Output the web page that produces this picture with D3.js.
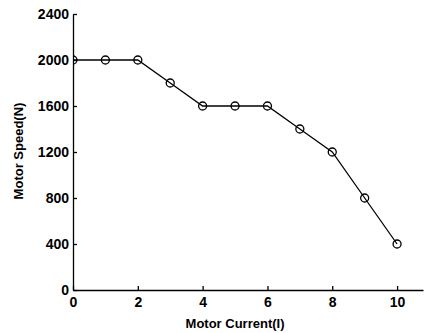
<!DOCTYPE html>
<html>
<head>
<meta charset="utf-8">
<script src="https://cdn.jsdelivr.net/npm/d3@7"></script>
<style>
  body { margin: 0; background: #fff; }
  svg { display: block; }
  .axis text { font-family: "Liberation Sans", Arial, sans-serif; font-weight: bold; font-size: 14px; fill: #000; }
  .axis path, .axis line { stroke: #000; stroke-width: 1.3; }
  .label { font-family: "Liberation Sans", Arial, sans-serif; font-weight: bold; font-size: 13px; fill: #000; }
</style>
</head>
<body>
<div id="chart"></div>
<script>
// dados
const current = [0, 1, 2, 3, 4, 5, 6, 7, 8, 9, 10];
const speed = [2000, 2000, 2000, 1800, 1600, 1600, 1600, 1400, 1200, 800, 400];
const xTicks = [0, 2, 4, 6, 8, 10];
const yTicks = [0, 400, 800, 1200, 1600, 2000, 2400];

const width = 426, height = 333;
const margin = { top: 14, right: 3, bottom: 43, left: 73 };

const svg = d3.select('#chart').append('svg')
  .attr('width', width)
  .attr('height', height);

const x = d3.scaleLinear().domain([0, 10.8]).range([margin.left, width - margin.right]);
const y = d3.scaleLinear().domain([0, 2400]).range([height - margin.bottom, margin.top]);

// recorte para a área do gráfico (o marcador em x=0 fica cortado)
svg.append('clipPath').attr('id', 'plot')
  .append('rect')
  .attr('x', margin.left)
  .attr('y', 0)
  .attr('width', width - margin.left)
  .attr('height', height);

// eixos com ticks para dentro (estilo MATLAB)
svg.append('g')
  .attr('class', 'axis')
  .attr('transform', `translate(0,${height - margin.bottom})`)
  .call(d3.axisBottom(x).tickValues(xTicks).tickFormat(d3.format('d')).tickSizeInner(-4).tickSizeOuter(0).tickPadding(4))
  .call(g => g.selectAll('text').attr('dy', '0.95em'));

svg.append('g')
  .attr('class', 'axis')
  .attr('transform', `translate(${margin.left},0)`)
  .call(d3.axisLeft(y).tickValues(yTicks).tickFormat(d3.format('d')).tickSizeInner(-4).tickSizeOuter(0).tickPadding(4));

const pts = current.map((c, i) => ({ c: c, s: speed[i] }));

const line = d3.line()
  .x(d => x(d.c))
  .y(d => y(d.s));

const plot = svg.append('g').attr('clip-path', 'url(#plot)');

plot.append('path')
  .attr('d', line(pts))
  .attr('fill', 'none')
  .attr('stroke', '#000')
  .attr('stroke-width', 1.3);

plot.selectAll('.pt').data(pts)
  .enter().append('circle')
  .attr('class', 'pt')
  .attr('cx', d => x(d.c))
  .attr('cy', d => y(d.s))
  .attr('r', 4)
  .attr('fill', 'none')
  .attr('stroke', '#000')
  .attr('stroke-width', 1.3);

// títulos dos eixos
svg.append('text')
  .attr('class', 'label')
  .attr('x', x(5))
  .attr('y', 328)
  .attr('text-anchor', 'middle')
  .text('Motor Current(I)');

svg.append('text')
  .attr('class', 'label')
  .attr('transform', `translate(23,${151}) rotate(-90)`)
  .attr('text-anchor', 'middle')
  .text('Motor Speed(N)');
</script>
</body>
</html>
